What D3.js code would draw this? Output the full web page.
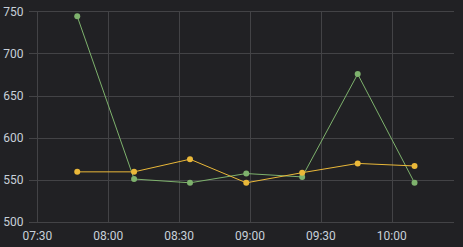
<!DOCTYPE html>
<html><head><meta charset="utf-8">
<script src="https://cdn.jsdelivr.net/npm/d3@7"></script>
<style>html,body{margin:0;padding:0;background:#212124;overflow:hidden}</style>
</head><body>
<svg id="c" width="463" height="247"></svg>
<script>
const times = ["07:46:52","08:10:56","08:34:36","08:58:26","09:22:06","09:45:36","10:09:40"];
const greenValues = [744, 551, 546.5, 557.5, 553.5, 675.5, 546.5];
const yellowValues = [559.5, 559.5, 574.5, 546.5, 558.5, 569.5, 566.5];
const xTickLabels = ["07:30","08:00","08:30","09:00","09:30","10:00"];
const yTickValues = [500,550,600,650,700,750];

(function(){
const parse = d3.timeParse("%H:%M:%S");
const parseHM = d3.timeParse("%H:%M");
const dates = times.map(parse);
const svg = d3.select("#c");
const pLeft = 29, pRight = 454, pTop = 11.3, pBottom = 222;

const x = d3.scaleTime().domain([parseHM("07:30"), parseHM("10:00")]).range([37.4, 391.7]);
const y = d3.scaleLinear().domain([500, 750]).range([pBottom, pTop]);

const grid = "#434346";
const textColor = "#c7d0d9";

svg.append("g").selectAll("line").data(yTickValues).join("line")
  .attr("x1", pLeft).attr("x2", pRight)
  .attr("y1", d => Math.round(y(d)) + 0.5).attr("y2", d => Math.round(y(d)) + 0.5)
  .attr("stroke", grid).attr("stroke-width", 1);
svg.append("g").selectAll("line").data(xTickLabels).join("line")
  .attr("x1", d => Math.round(x(parseHM(d))) + 0.5).attr("x2", d => Math.round(x(parseHM(d))) + 0.5)
  .attr("y1", pTop).attr("y2", pBottom)
  .attr("stroke", grid).attr("stroke-width", 1);

svg.append("g").selectAll("text").data(yTickValues).join("text")
  .attr("x", 23.5).attr("y", d => y(d)).attr("dy", "0.35em")
  .attr("text-anchor", "end")
  .attr("fill", textColor).attr("font-family", "Roboto, sans-serif").attr("font-size", 12)
  .text(d => d);
svg.append("g").selectAll("text").data(xTickLabels).join("text")
  .attr("x", d => x(parseHM(d))).attr("y", 240)
  .attr("text-anchor", "middle")
  .attr("fill", textColor).attr("font-family", "Roboto, sans-serif").attr("font-size", 12)
  .text(d => d);

function series(vals, color) {
  const data = dates.map((d, i) => [d, vals[i]]);
  const line = d3.line().x(d => x(d[0])).y(d => y(d[1]));
  svg.append("path").datum(data).attr("d", line)
    .attr("fill", "none").attr("stroke", color).attr("stroke-width", 1);
  svg.append("g").selectAll("circle").data(data).join("circle")
    .attr("cx", d => x(d[0])).attr("cy", d => y(d[1])).attr("r", 3)
    .attr("fill", color);
}
series(greenValues, "#7eb26d");
series(yellowValues, "#eab839");
})();
</script>
</body></html>
